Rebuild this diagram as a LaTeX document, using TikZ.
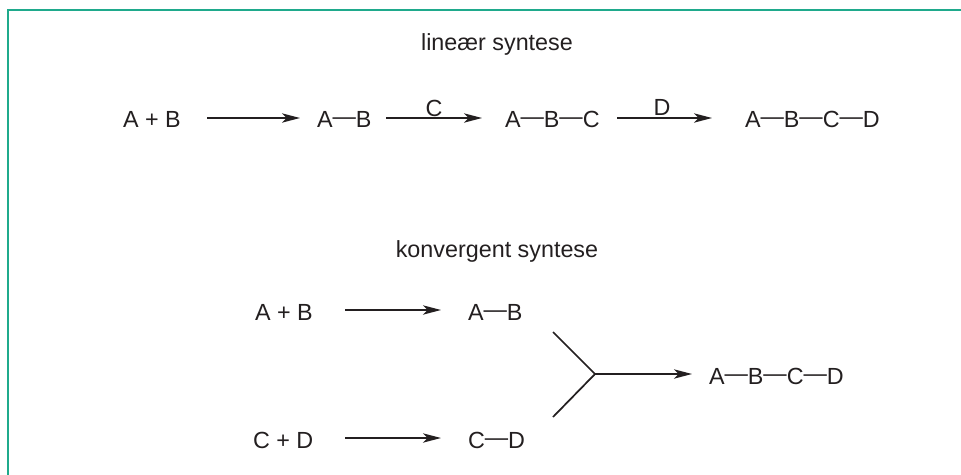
\documentclass[tikz,border=0pt]{standalone}
\usepackage{fontspec}
\setmainfont{Liberation Sans}
\usetikzlibrary{arrows.meta}
\definecolor{frame}{HTML}{1FAA8C}
\definecolor{ink}{HTML}{231F20}
\newcommand{\bnd}{\raisebox{2pt}{—}}
\begin{document}
\begin{tikzpicture}[x=0.75pt,y=-0.75pt,
  txt/.style={inner sep=0pt,outer sep=0pt,text=ink,font=\fontsize{17.5}{21}\selectfont},
  rxn/.style={draw=ink,line width=1.3pt,-{Stealth[length=13.5pt,width=7pt,inset=3.5pt]}},
  branch/.style={draw=ink,line width=1.3pt}]
\useasboundingbox (0,0) rectangle (961,475);
\draw[frame,line width=1.5pt] (8,476) -- (8,10) -- (962,10);
% linear
\node[txt,anchor=base] (t1) at (497,50) {lineær syntese};
\node[txt,anchor=base west] (l1) at (123,127) {A + B};
\node[txt,anchor=base west] (l2) at (317,127) {A\bnd B};
\node[txt,anchor=base west] (l3) at (505,127) {A\bnd B\bnd C};
\node[txt,anchor=base west] (l4) at (745,127) {A\bnd B\bnd C\bnd D};
\coordinate (a1s) at (207,118); \coordinate (a1e) at (300,118);
\coordinate (a2s) at (386,118); \coordinate (a2e) at (482,118);
\coordinate (a3s) at (617,118); \coordinate (a3e) at (712,118);
\draw[rxn] (a1s) -- (a1e);
\draw[rxn] (a2s) -- (a2e);
\draw[rxn] (a3s) -- (a3e);
\node[txt,anchor=base] (lc) at (434,116) {C};
\node[txt,anchor=base] (ld) at (662,115) {D};
% convergent
\node[txt,anchor=base] (t2) at (497,257) {konvergent syntese};
\node[txt,anchor=base west] (c1) at (255,320) {A + B};
\node[txt,anchor=base west] (c2) at (468,320) {A\bnd B};
\node[txt,anchor=base west] (c3) at (253,448) {C + D};
\node[txt,anchor=base west] (c4) at (468,448) {C\bnd D};
\node[txt,anchor=base west] (c5) at (709,384) {A\bnd B\bnd C\bnd D};
\coordinate (b1s) at (345,310); \coordinate (b1e) at (441,310);
\coordinate (b2s) at (345,438); \coordinate (b2e) at (441,438);
\draw[rxn] (b1s) -- (b1e);
\draw[rxn] (b2s) -- (b2e);
\coordinate (yu) at (553,332);
\coordinate (yl) at (553,417);
\coordinate (yv) at (595,374);
\coordinate (ye) at (692,374);
\draw[branch] (yu) -- (yv) -- (yl);
\draw[rxn] (yv) -- (ye);
\end{tikzpicture}
\end{document}
